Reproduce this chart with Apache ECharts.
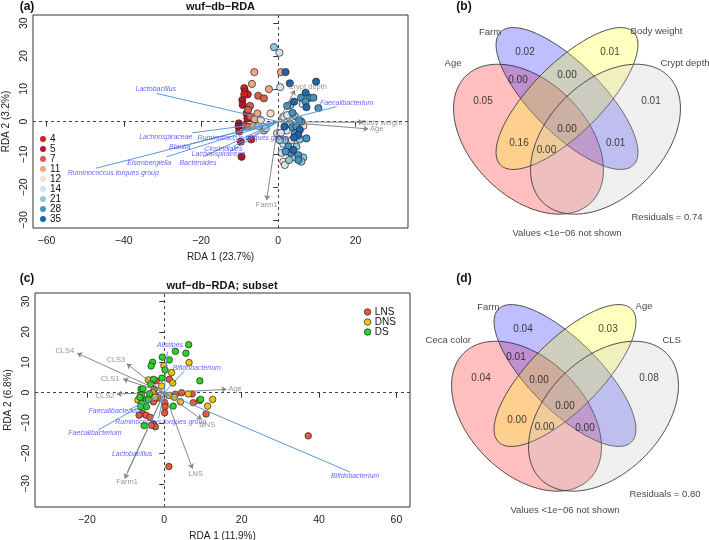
<!DOCTYPE html>
<html><head><meta charset="utf-8">
<script src="https://cdn.jsdelivr.net/npm/echarts@6/dist/echarts.min.js"></script>
<style>html,body{margin:0;padding:0;background:#fff}#c{width:709px;height:540px}</style>
</head><body><div id="c"></div>
<script>
// ---------- Panel (a) data ----------
const ageGroups = ['4','5','7','11','12','14','21','28','35'];
const ageColors = ['#E41A1C','#B2182B','#D6604D','#F4A582','#FDDBC7','#D1E5F0','#92C5DE','#4393C3','#2166AC'];
const ptsA = [
 [-1.1,22.7,6],[0.3,21.0,5],[-6.2,15.1,3],[0.7,15.1,3],[1.9,15.1,8],[-6.8,11.5,3],[-2.4,9.9,3],
 [-8.8,10.2,0],[-8.6,9.1,0],[-7.9,8.3,0],[-8.8,8.3,0],[-5.2,7.9,2],[-3.7,7.1,2],[-9.3,6.6,1],
 [3.0,11.7,8],[0.5,10.5,5],[-9.2,5.1,1],[-7.3,4.8,2],[-8.2,2.5,1],[-7.8,3.6,2],[-5.4,2.5,3],
 [-2.0,2.5,4],[-7.2,1.5,2],[-8.0,1.0,1],[-6.1,0.7,3],[-10.2,-0.5,1],[-10.3,-1.5,1],[-9.6,-1.8,1],
 [-8.6,-1.3,2],[-7.8,-1.5,2],[-6.5,-1.3,3],[-5.1,-1.3,4],[-3.7,-2.7,3],[-10.1,-3.0,1],[-7.0,-5.4,0],
 [-9.7,-6.1,1],[-9.5,-10.7,1],[-3.2,-2.0,5],[-4.5,0.5,4],
 [9.8,12.2,8],[7.1,8.8,8],[5.9,7.3,7],[8.2,7.3,7],[9.1,7.3,7],[7.1,6.1,7],[4.1,6.1,8],[3.2,5.1,6],
 [6.3,5.4,5],[7.3,4.4,8],[10.4,4.1,7],[3.7,2.7,7],[4.3,1.7,6],[2.3,2.0,5],[6.0,0.0,7],[3.0,-0.5,6],
 [1.6,-1.5,8],[3.7,-1.7,7],[4.7,-1.5,7],[6.5,-1.3,4],[5.6,-2.5,8],[2.2,-2.7,5],[0.7,-3.4,5],
 [-0.3,-3.6,4],[4.3,-3.6,7],[5.2,-4.1,8],[4.1,-4.8,8],[7.3,-5.1,7],[1.7,-5.6,6],[3.5,-5.6,5],
 [5.6,-5.4,6],[0.4,-5.6,6],[1.3,-6.8,5],[2.6,-7.6,7],[4.7,-7.6,6],[3.9,-8.6,8],[3.2,-9.5,7],
 [0.9,-9.5,5],[5.2,-10.2,7],[3.9,-10.9,6],[6.5,-10.9,6],[1.3,-12.2,4],[1.7,-13.2,5],[2.8,-11.7,6],
 [5.2,-11.7,7],[6.0,-12.2,6],[1.9,-9.1,7],[0.3,-5.4,5],[5.4,0.5,7],[1.3,1.5,4],[2.3,4.8,7]
];
const envNamesA = ['Crypt depth','Farm1','Body weight','Age'];
const envTipsA = [[4.3,9.6],[-3.0,-23.9],[22.0,-0.2],[23.3,-2.2]];
const envLabA = [[7.6,10.5],[-3.0,-25.4],[26.8,-0.3],[25.5,-2.3]];
const spNamesA = ['Lactobacillus','Faecalibacterium','Lachnospiraceae','Blautia','Eisenbergiella',
  'Ruminococcus torques group','Ruminococcus torques group','Clostridiales','Lachnospiraceae','Bacteroides'];
const spTipsA = [[-31.5,8.6],[15.1,4.6],[-22.3,-3.4],[-22.9,-6.9],[-28.9,-10.7],[-47.2,-14.2],
  [-9.9,-2.5],[-11.7,-7.6],[-12.5,-9.1],[-19.4,-10.7]];
const spLabA = [[-31.7,10.0],[17.7,5.8],[-29.1,-4.8],[-25.5,-7.6],[-33.4,-12.7],[-42.7,-15.7],
  [-9.1,-4.9],[-14.2,-8.4],[-15.5,-9.9],[-20.8,-12.5]];
const xTicksA = [-60,-40,-20,0,20];
const yTicks = [-30,-20,-10,0,10,20,30];

// ---------- Panel (c) data ----------
const cecaGroups = ['LNS','DNS','DS'];
const cecaColors = ['#E9573F','#F2C21B','#2BD41F'];
const ptsC = [
 [6.3,15.8,2],[2.9,13.6,2],[5.6,13.0,2],[-0.5,11.7,2],[1.3,10.8,2],[-3.0,10.0,2],[-3.4,8.8,2],
 [0.2,7.5,2],[-0.6,4.8,2],[9.2,3.9,2],[-2.8,4.4,2],[-3.5,2.8,2],[-6.0,1.2,2],[-5.5,1.3,2],
 [9.4,-2.2,2],[2.3,-4.4,2],[-5.9,-0.8,2],[-4.7,-2.4,2],[-4.1,-2.2,2],[-5.9,-3.5,2],[-4.6,-4.6,2],
 [-6.1,-4.6,2],[-5.2,-10.8,2],[-6.3,-1.5,2],[-3.8,-0.3,2],
 [6.4,9.9,1],[-0.1,8.9,1],[1.9,6.6,1],[2.2,3.2,1],[-4.1,4.2,1],[-0.7,2.2,1],[6.2,-0.4,1],
 [1.3,-0.9,1],[2.6,-1.5,1],[12.5,-2.2,1],[4.2,-3.0,1],[11.2,-4.4,1],[-3.0,0.0,1],[-5.2,-2.8,1],
 [-2.4,-1.5,1],[-6.8,-2.4,1],
 [1.3,4.4,0],[-2.1,3.9,0],[-2.6,1.1,0],[4.5,0.0,0],[2.9,-0.5,0],[7.2,-0.4,0],[9.1,-2.6,0],
 [7.5,-3.3,0],[0.1,-3.3,0],[0.2,-4.6,0],[0.1,-6.6,0],[10.8,-7.0,0],[37.2,-14.2,0],[1.2,-24.3,0],
 [-2.8,-3.0,0],[-5.6,-6.8,0],[-4.7,-7.4,0],[-6.5,-7.4,0],[-3.7,-8.1,0],[-2.8,-10.3,0],
 [-2.3,-11.2,0],[-3.3,-10.7,0],[-2.2,-0.8,0],[-1.5,-1.8,0]
];
const envNamesC = ['CLS4','CLS3','CLS1','CLS2','Age','DNS','LNS','Farm1'];
const envTipsC = [[-22.5,13.0],[-9.7,9.5],[-10.6,4.5],[-12.3,-0.4],[16.1,1.1],[9.7,-8.8],[7.3,-25.0],[-10.2,-28.3]];
const envLabC = [[-25.7,13.9],[-12.5,10.8],[-14.0,4.5],[-15.3,-1.1],[18.3,1.3],[11.1,-10.7],[8.1,-26.6],[-9.6,-29.2]];
const spNamesC = ['Alistipes','Bifidobacterium','Faecalibacterium','Faecalibacterium',
  'Ruminococcus torques group','Lactobacillus','Bifidobacterium'];
const spTipsC = [[0.8,13.5],[5.2,7.2],[-9.0,-5.5],[-17.1,-12.3],[-1.5,-8.5],[-9.5,-26.0],[48.0,-26.1]];
const spLabC = [[1.5,15.7],[8.4,8.0],[-12.7,-6.0],[-17.9,-13.4],[-0.9,-9.6],[-8.3,-20.2],[49.3,-27.5]];
const xTicksC = [-20,0,20,40,60];

// ---------- Venn data ----------
// ellipses: [cx, cy, semi-major, semi-minor, angle(deg)]
const vennEllipses = [[-0.385,-0.407,0.89,0.576,-45],[0,0,0.94,0.35,-45],[0,0,0.94,0.35,45],[0.385,-0.407,0.89,0.576,45]];
const vennFills = ['rgba(255,0,0,0.25)','rgba(0,0,255,0.25)','rgba(255,255,0,0.25)','rgba(190,190,190,0.25)'];
const regionPos = [[-0.84,-0.03],[-0.42,0.46],[0.43,0.46],[0.84,-0.03],[-0.49,0.18],[0,0.235],[0.49,0.18],
  [-0.48,-0.447],[0.487,-0.447],[0,-0.9],[-0.26,-0.05],[0.26,-0.05],[-0.205,-0.517],[0.2,-0.528],[0,-0.31]];
const regionB = [0.05,0.02,0.01,0.01,0.00,0.00,null,0.16,0.01,null,null,null,0.00,null,0.00];
const regionD = [0.04,0.04,0.03,0.08,0.01,null,null,0.00,null,null,0.00,null,0.00,0.00,0.00];
const setNamesB = ['Age','Farm','Body weight','Crypt depth'];
const setNamesD = ['Ceca color','Farm','Age','CLS'];
const setLabPosB = [[-1.14,0.355],[-0.77,0.665],[0.895,0.675],[1.18,0.352]];
const setLabPosD = [[-1.167,0.355],[-0.767,0.678],[0.79,0.688],[1.067,0.355]];
const residB = 0.74, residD = 0.80;

// ---------- build ----------
const FONT = 'Liberation Sans, Arial, sans-serif';
const minus = v => String(v).replace('-', '\u2212');
function valAxis(gi, min, max, ticks, name, isY) {
  const ax = {
    type:'value', gridIndex:gi, min:min, max:max, name:name, nameLocation:'middle',
    nameGap: isY ? 15 : 24,
    nameTextStyle:{fontSize:10, color:'#222', fontFamily:FONT},
    axisLine:{show:false}, splitLine:{show:false},
    axisTick:{show:true, inside:false, length:5, customValues:ticks, lineStyle:{color:'#333'}},
    axisLabel:{show:true, customValues:ticks, formatter:minus, fontSize:10.5, color:'#222', fontFamily:FONT, margin: isY ? 3 : 8}
  };
  if (isY) ax.axisLabel.rotate = 90;
  return ax;
}
function hidAxis(gi, min, max) {
  return {type:'value', gridIndex:gi, min:min, max:max, show:false};
}
const series = [];
ageGroups.forEach((g, k) => {
  const s = {type:'scatter', name:g, xAxisIndex:0, yAxisIndex:0, symbolSize:7.2, z:3,
    itemStyle:{color:ageColors[k], borderColor:'#222', borderWidth:0.7, opacity:1},
    data: ptsA.filter(p => p[2] === k).map(p => [p[0], p[1]])};
  if (k === 0) s.markLine = {silent:true, symbol:'none', animation:false, z:1,
    lineStyle:{type:[3,3], color:'#444', width:1}, label:{show:false}, data:[{xAxis:0},{yAxis:0}]};
  series.push(s);
});
cecaGroups.forEach((g, k) => {
  const s = {type:'scatter', name:g, xAxisIndex:1, yAxisIndex:1, symbolSize:6.5, z:3,
    itemStyle:{color:cecaColors[k], borderColor:'#222', borderWidth:0.7, opacity:1},
    data: ptsC.filter(p => p[2] === k).map(p => [p[0], p[1]])};
  if (k === 0) s.markLine = {silent:true, symbol:'none', animation:false, z:1,
    lineStyle:{type:[3,3], color:'#444', width:1}, label:{show:false}, data:[{xAxis:0},{yAxis:0}]};
  series.push(s);
});
function vecSeries(ai, tips, color, arrow) {
  return {type:'lines', coordinateSystem:'cartesian2d', xAxisIndex:ai, yAxisIndex:ai, z:4,
    symbol: arrow ? ['none','arrow'] : ['none','none'], symbolSize:5,
    lineStyle:{color:color, width:1, opacity:1},
    data: tips.map(t => ({coords:[[0,0],t]}))};
}
function labSeries(ai, names, pos, color, size, italic) {
  return {type:'scatter', xAxisIndex:ai, yAxisIndex:ai, symbolSize:0, z:5, silent:true,
    label:{show:true, position:'inside', formatter: p => p.data.name, color:color, fontSize:size,
      fontStyle: italic ? 'italic' : 'normal', fontFamily:FONT},
    data: names.map((n,i) => ({name:n, value:pos[i]}))};
}
series.push(vecSeries(0, spTipsA, '#5B9BD5', false));
series.push(vecSeries(0, envTipsA, '#858585', true));
series.push(labSeries(0, spNamesA, spLabA, '#3B3BFF', 7, true));
series.push(labSeries(0, envNamesA, envLabA, '#7A7A7A', 7.5, false));
series.push(vecSeries(1, spTipsC, '#5B9BD5', false));
series.push(vecSeries(1, envTipsC, '#858585', true));
series.push(labSeries(1, spNamesC, spLabC, '#3B3BFF', 7, true));
series.push(labSeries(1, envNamesC, envLabC, '#7A7A7A', 7.5, false));

function ellipseSeries(ai) {
  return {type:'custom', coordinateSystem:'cartesian2d', xAxisIndex:ai, yAxisIndex:ai, z:2, silent:true,
    encode:{x:0, y:1}, data: vennEllipses,
    renderItem: function(params, api) {
      const cx = api.value(0), cy = api.value(1), a = api.value(2), b = api.value(3), ang = api.value(4)*Math.PI/180;
      const pts = [];
      for (let i = 0; i < 180; i++) {
        const t = i/180*2*Math.PI;
        const x = cx + a*Math.cos(t)*Math.cos(ang) - b*Math.sin(t)*Math.sin(ang);
        const y = cy + a*Math.cos(t)*Math.sin(ang) + b*Math.sin(t)*Math.cos(ang);
        pts.push(api.coord([x,y]));
      }
      return {type:'polygon', shape:{points:pts}, style:{fill:vennFills[params.dataIndex], stroke:'#3a3a3a', lineWidth:0.9}};
    }};
}
function vennText(ai, vals, names, namePos, resid) {
  const data = [];
  vals.forEach((v,i) => { if (v !== null) data.push({name:v.toFixed(2), value:regionPos[i], fs:10}); });
  names.forEach((n,i) => data.push({name:n, value:namePos[i], fs:9.5}));
  data.push({name:'Residuals = ' + resid.toFixed(2), value:[1.0,-1.185], fs:9.5});
  data.push({name:'Values <1e\u221206 not shown', value:[0.0,-1.35], fs:9.5});
  return {type:'scatter', xAxisIndex:ai, yAxisIndex:ai, symbolSize:0, z:5, silent:true,
    label:{show:true, position:'inside', color:'#111', fontFamily:FONT,
      formatter: p => p.data.name},
    data: data.map(d => ({name:d.name, value:d.value, label:{fontSize:d.fs}}))};
}
series.push(ellipseSeries(2));
series.push(vennText(2, regionB, setNamesB, setLabPosB, residB));
series.push(ellipseSeries(3));
series.push(vennText(3, regionD, setNamesD, setLabPosD, residD));

const gridBase = {containLabel:false, outerBoundsMode:'none'};
const option = {
  animation:false,
  backgroundColor:'#fff',
  textStyle:{fontFamily:FONT},
  grid:[
    Object.assign({left:33, top:15, width:375, height:213, show:true, borderColor:'#333', borderWidth:1, backgroundColor:'transparent'}, gridBase),
    Object.assign({left:35, top:293, width:375, height:214, show:true, borderColor:'#333', borderWidth:1, backgroundColor:'transparent'}, gridBase),
    Object.assign({left:437, top:20, width:260, height:220}, gridBase),
    Object.assign({left:435, top:297, width:260, height:220}, gridBase)
  ],
  xAxis:[
    valAxis(0, -63.5, 33.6, xTicksA, 'RDA 1 (23.7%)', false),
    valAxis(1, -33.4, 63.5, xTicksC, 'RDA 1 (11.9%)', false),
    hidAxis(2, -1.3, 1.3), hidAxis(3, -1.3, 1.3)
  ],
  yAxis:[
    valAxis(0, -32.4, 32.5, yTicks, 'RDA 2 (3.2%)', true),
    valAxis(1, -37.6, 32.8, yTicks, 'RDA 2 (6.8%)', true),
    hidAxis(2, -1.415, 0.785), hidAxis(3, -1.415, 0.785)
  ],
  legend:[
    {data:ageGroups, orient:'vertical', left:35, top:129, padding:5, itemGap:0, itemWidth:6, itemHeight:6,
      icon:'circle', selectedMode:false, itemStyle:{borderWidth:0},
      textStyle:{fontSize:10, lineHeight:10, color:'#111', fontFamily:FONT, padding:[0,0,0,-1]}},
    {data:cecaGroups, orient:'vertical', left:359, top:302, padding:5, itemGap:0, itemWidth:6.5, itemHeight:6.5,
      icon:'circle', selectedMode:false, itemStyle:{borderColor:'#222', borderWidth:0.7},
      textStyle:{fontSize:10, lineHeight:10, color:'#111', fontFamily:FONT, padding:[0,0,0,-1]}}
  ],
  graphic:[
    {type:'text', x:27, y:7, style:{text:'(a)', font:'bold 12px '+FONT, fill:'#111', align:'center', verticalAlign:'middle'}},
    {type:'text', x:220.5, y:7, style:{text:'wuf\u2212db\u2212RDA', font:'bold 11px '+FONT, fill:'#111', align:'center', verticalAlign:'middle'}},
    {type:'text', x:464, y:7, style:{text:'(b)', font:'bold 12px '+FONT, fill:'#111', align:'center', verticalAlign:'middle'}},
    {type:'text', x:27, y:279, style:{text:'(c)', font:'bold 12px '+FONT, fill:'#111', align:'center', verticalAlign:'middle'}},
    {type:'text', x:222, y:286, style:{text:'wuf\u2212db\u2212RDA; subset', font:'bold 11px '+FONT, fill:'#111', align:'center', verticalAlign:'middle'}},
    {type:'text', x:464, y:279, style:{text:'(d)', font:'bold 12px '+FONT, fill:'#111', align:'center', verticalAlign:'middle'}}
  ],
  series: series
};
const chart = echarts.init(document.getElementById('c'), null, {renderer:'canvas', width:709, height:540});
chart.setOption(option);
</script>
</body></html>
